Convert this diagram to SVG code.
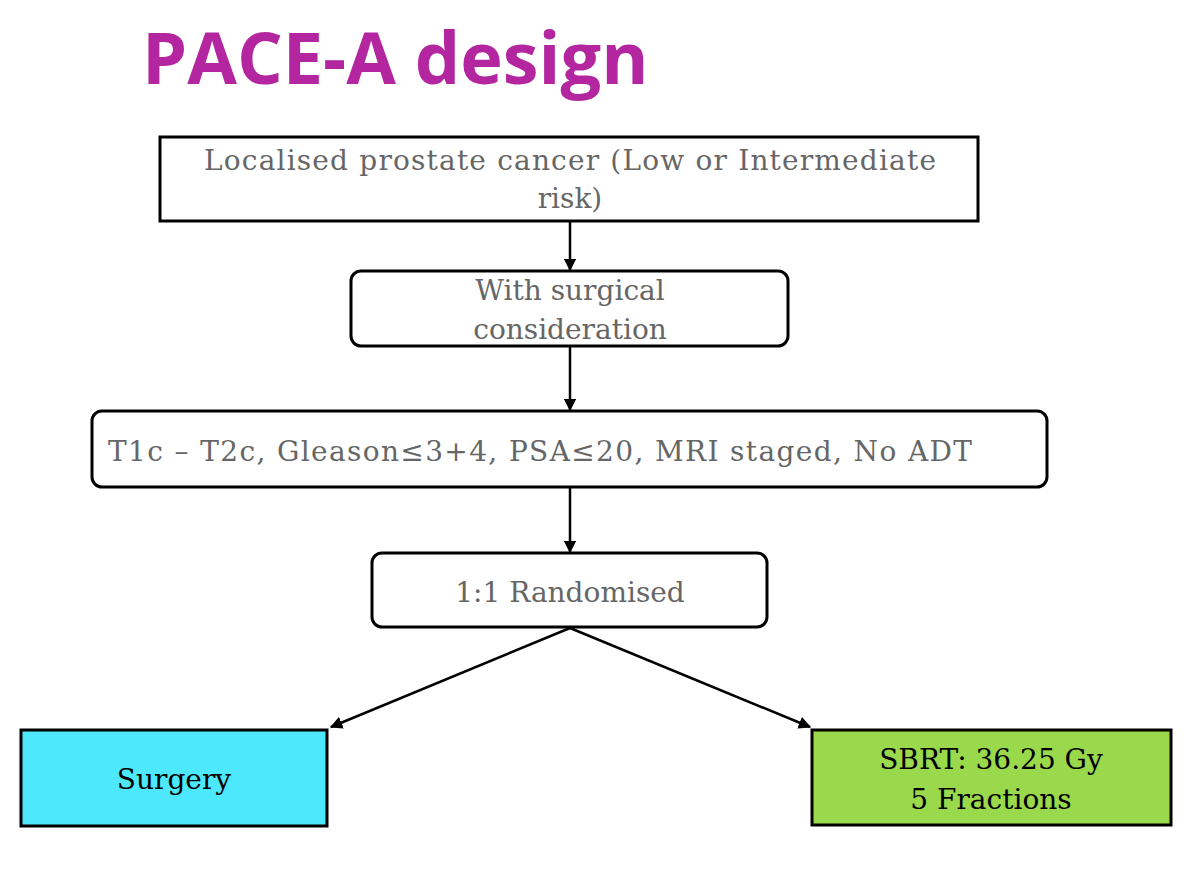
<svg xmlns="http://www.w3.org/2000/svg" width="1200" height="881" viewBox="0 0 1200 881">
<style>
.b{fill:#fff;stroke:#000;stroke-width:3}
.t{font-family:"DejaVu Serif","Liberation Serif",serif;font-size:28px;fill:#666;text-anchor:middle}
.s{text-anchor:start}
.k{fill:#000}
.c{stroke:#000;stroke-width:2.5;fill:none;marker-end:url(#a)}
</style>
<defs><marker id="a" viewBox="0 0 10 10" refX="9" refY="5" markerWidth="5" markerHeight="5" orient="auto"><path d="M0,0L10,5L0,10z"/></marker></defs>
<rect width="1200" height="881" fill="#fff"/>
<text x="142" y="84" font-family="Open Sans,Liberation Sans,sans-serif" font-weight="bold" font-size="72" fill="#b3269f">PACE-A design</text>
<g id="connectors">
<line class="c" x1="570" y1="222" x2="570" y2="270"/>
<line class="c" x1="570" y1="347" x2="570" y2="410"/>
<line class="c" x1="570" y1="488" x2="570" y2="552"/>
<line class="c" x1="570" y1="628" x2="331" y2="727"/>
<line class="c" x1="570" y1="628" x2="810" y2="727"/>
</g>
<g id="n1"><rect class="b" x="160" y="137" width="818" height="84"/><text class="t" x="570" y="170" textLength="732">Localised prostate cancer (Low or Intermediate</text><text class="t" x="570" y="208">risk)</text></g>
<g id="n2"><rect class="b" x="351" y="271" width="437" height="75" rx="10"/><text class="t" x="570" y="300">With surgical</text><text class="t" x="570" y="339">consideration</text></g>
<g id="n3"><rect class="b" x="92" y="411" width="955" height="76" rx="10"/><text class="t s" x="108" y="461" textLength="864">T1c – T2c, Gleason≤3+4, PSA≤20, MRI staged, No ADT</text></g>
<g id="n4"><rect class="b" x="372" y="553" width="395" height="74" rx="10"/><text class="t" x="570" y="602">1:1 Randomised</text></g>
<g id="n5"><rect x="21" y="730" width="306" height="96" fill="#4ee8fc" stroke="#000" stroke-width="3"/><text class="t k" x="174" y="789">Surgery</text></g>
<g id="n6"><rect x="812" y="730" width="359" height="95" fill="#9ad94c" stroke="#000" stroke-width="3"/><text class="t k" x="991" y="769">SBRT: 36.25 Gy</text><text class="t k" x="991" y="809">5 Fractions</text></g>
</svg>
